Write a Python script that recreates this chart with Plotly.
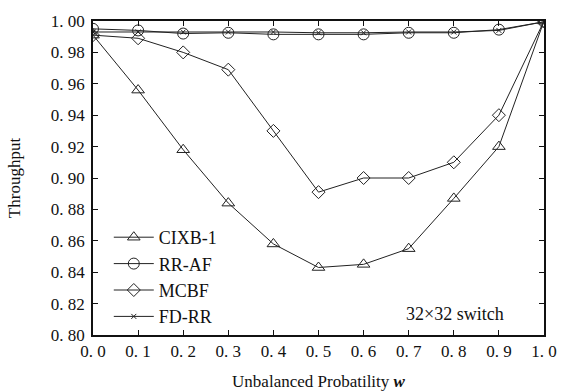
import plotly.graph_objects as go

w = [0.0, 0.1, 0.2, 0.3, 0.4, 0.5, 0.6, 0.7, 0.8, 0.9, 1.0]
cixb = [0.991, 0.956, 0.918, 0.884, 0.858, 0.843, 0.845, 0.855, 0.887, 0.920, 1.000]
rraf = [0.995, 0.994, 0.992, 0.9925, 0.9915, 0.9915, 0.9915, 0.9925, 0.9925, 0.9945, 0.9995]
mcbf = [0.991, 0.989, 0.980, 0.969, 0.930, 0.891, 0.900, 0.900, 0.910, 0.940, 1.000]
fdrr = [0.993, 0.993, 0.993, 0.993, 0.993, 0.9925, 0.9925, 0.993, 0.993, 0.994, 0.9995]

xticks = [0.0, 0.1, 0.2, 0.3, 0.4, 0.5, 0.6, 0.7, 0.8, 0.9, 1.0]
xticklabels = ["0. 0", "0. 1", "0. 2", "0. 3", "0. 4", "0. 5", "0. 6", "0. 7", "0. 8", "0. 9", "1. 0"]
yticks = [0.80, 0.82, 0.84, 0.86, 0.88, 0.90, 0.92, 0.94, 0.96, 0.98, 1.00]
yticklabels = ["0. 80", "0. 82", "0. 84", "0. 86", "0. 88", "0. 90", "0. 92", "0. 94", "0. 96", "0. 98", "1. 00"]

FONT = "Liberation Serif"

fig = go.Figure()
series = [
    ("CIXB-1", cixb, "triangle-up-open", 11),
    ("RR-AF", rraf, "circle-open", 11),
    ("MCBF", mcbf, "diamond-open", 10),
    ("FD-RR", fdrr, "x-thin", 5),
]
for name, ys, sym, sz in series:
    fig.add_trace(go.Scatter(
        x=w, y=ys, name=name, mode="lines+markers",
        line=dict(color="#222", width=1),
        marker=dict(symbol=sym, size=sz, color="#222", line=dict(color="#222", width=1)),
    ))

fig.add_annotation(x=0.915, y=0.8132, text="32×32 switch", showarrow=False,
                   xanchor="right", yanchor="middle",
                   font=dict(family=FONT, size=18, color="#111"))

fig.update_layout(
    width=561, height=392,
    margin=dict(l=93, r=17, t=19, b=57),
    paper_bgcolor="white", plot_bgcolor="white",
    font=dict(family=FONT, color="#111"),
    showlegend=True,
    legend=dict(x=0.035, y=0.0, xanchor="left", yanchor="bottom",
                bgcolor="rgba(0,0,0,0)", font=dict(family=FONT, size=18, color="#111"),
                tracegroupgap=0, itemwidth=40),
    xaxis=dict(range=[0, 1], tickvals=xticks, ticktext=xticklabels, automargin=False,
               ticks="inside", ticklen=5, tickcolor="#111", showline=True,
               linecolor="#111", linewidth=1.5, mirror="allticks", showgrid=False,
               zeroline=False, tickfont=dict(family=FONT, size=17, color="#111"),
               title=dict(text="Unbalanced Probatility <b><i>w</i></b>",
                          font=dict(family=FONT, size=17, color="#111"))),
    yaxis=dict(range=[0.8, 1.0], tickvals=yticks, ticktext=yticklabels, automargin=True,
               ticks="inside", ticklen=5, tickcolor="#111", showline=True,
               linecolor="#111", linewidth=1.5, mirror="allticks", showgrid=False,
               zeroline=False, tickfont=dict(family=FONT, size=17, color="#111"),
               ticklabelstandoff=3,
               title=dict(text="Throughput", font=dict(family=FONT, size=17, color="#111"),
                          standoff=26)),
)

fig.write_html("out.html")
